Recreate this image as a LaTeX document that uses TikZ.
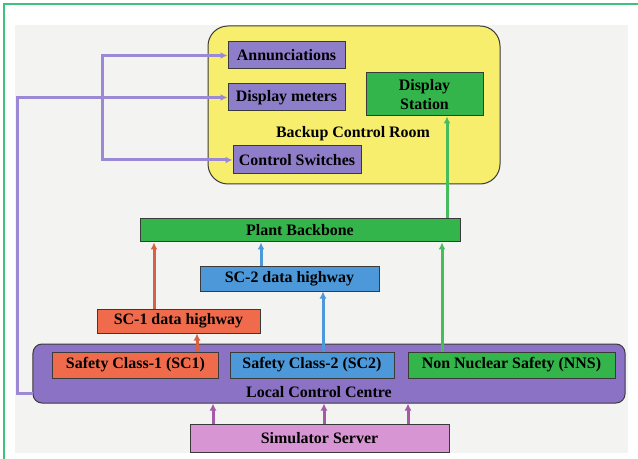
\documentclass[tikz,border=0pt]{standalone}
\usepackage{fontspec}
\setmainfont{Liberation Serif}
\usepackage{tikz}
\usetikzlibrary{arrows.meta}
\definecolor{frameGreen}{HTML}{3CC27A}
\definecolor{paper}{HTML}{F3F3F1}
\definecolor{edge}{HTML}{3A3A3A}
\definecolor{roomYellow}{HTML}{F6EE6C}
\definecolor{panelPurple}{HTML}{8E7DC9}
\definecolor{lccPurple}{HTML}{8B72C5}
\definecolor{netGreen}{HTML}{33B54B}
\definecolor{scOrange}{HTML}{F06B4C}
\definecolor{scBlue}{HTML}{4C98D8}
\definecolor{simPink}{HTML}{D795D4}
\definecolor{feedPurple}{HTML}{9C89D5}
\definecolor{simLine}{HTML}{A55AA8}
\tikzset{%
  >={Latex[width=7bp,length=7bp]},
  % Specifications for style of nodes:
         base/.style = {rectangle, draw=edge, line width=1bp, inner sep=0pt,
                        text centered, font=\bfseries\fontsize{16}{19}\selectfont},
     roombox/.style = {base, fill=roomYellow, rounded corners=20bp},
       panel/.style = {base, fill=panelPurple},
     netbox/.style = {base, fill=netGreen},
     sc1box/.style = {base, fill=scOrange},
     sc2box/.style = {base, fill=scBlue},
      lccbox/.style = {base, fill=lccPurple, rounded corners=9bp},
      simbox/.style = {base, fill=simPink},
     heading/.style = {inner sep=0pt, font=\bfseries\fontsize{16}{19}\selectfont},
  % Specifications for style of lines:
        link/.style = {->, line width=3bp},
        feed/.style = {link, feedPurple},
     redlink/.style = {link, scOrange!90!black},
    bluelink/.style = {link, scBlue},
   greenlink/.style = {link, netGreen!90!white},
     simlink/.style = {link, simLine},
}

\begin{document}
\begin{tikzpicture}[x=1bp, y=-1bp]
  \useasboundingbox (0,0) rectangle (638,459);
  \fill[paper] (15,25) rectangle (628,453);
  \draw[frameGreen, line width=1.3bp] (4,459) -- (4,4) -- (638,4);
  % Specification of nodes (position, size, etc.)
  \node (room)     [roombox, minimum width=292bp, minimum height=158bp]
                                                    at (354,105)   {};
  \node (annun)    [panel, minimum width=117bp, minimum height=27bp]
                                                    at (286.5,55.5) {Annunciations};
  \node (meters)   [panel, minimum width=117bp, minimum height=27bp]
                                                    at (286.5,97.5) {Display meters};
  \node (switches) [panel, minimum width=128bp, minimum height=28bp]
                                                    at (297,160)   {Control Switches};
  \node (station)  [netbox, minimum width=117bp, minimum height=43bp, align=center]
                                                    at (424.5,94.5) {Display\\Station};
  \node (roomText) [heading]                        at (353,134)   {Backup Control Room};
  \node (backbone) [netbox, minimum width=320bp, minimum height=23bp]
                                                    at (300,230.5) {Plant Backbone};
  \node (hw2)      [sc2box, minimum width=179bp, minimum height=24bp]
                                                    at (289.5,279) {SC-2 data highway};
  \node (hw1)      [sc1box, minimum width=163bp, minimum height=24bp]
                                                    at (178.5,321) {SC-1 data highway};
  \node (lcc)      [lccbox, minimum width=592bp, minimum height=59bp]
                                                    at (329,373.5) {};
  \node (sc1)      [sc1box, minimum width=165bp, minimum height=26bp]
                                                    at (135.5,365) {Safety Class-1 (SC1)};
  \node (sc2)      [sc2box, minimum width=164bp, minimum height=26bp]
                                                    at (312,365)   {Safety Class-2 (SC2)};
  \node (nns)      [netbox, minimum width=207bp, minimum height=26bp]
                                                    at (511.5,365) {Non Nuclear Safety (NNS)};
  \node (lccText)  [heading]                        at (319,392)   {Local Control Centre};
  \node (sim)      [simbox, minimum width=259bp, minimum height=28bp]
                                                    at (319.5,438) {Simulator Server};
  % Specification of lines between nodes specified above
  \coordinate (lccIn) at (33,393);
  \coordinate (split) at (102,97.5);
  \draw[feed]  (lccIn) -- ++(-16,0) |- (meters.west);
  \draw[feed]  (split) |- (annun.west);
  \draw[feed]  (split) |- (switches.west);
  \draw[redlink]   ([xshift=61.5bp]sc1.north) -- ([xshift=61.5bp]sc1.north |- hw1.south);
  \draw[redlink]   ([xshift=-24.5bp]hw1.north) -- ([xshift=-24.5bp]hw1.north |- backbone.south);
  \draw[bluelink]  ([xshift=11bp]sc2.north) -- ([xshift=11bp]sc2.north |- hw2.south);
  \draw[bluelink]  ([xshift=-28.5bp]hw2.north) -- ([xshift=-28.5bp]hw2.north |- backbone.south);
  \draw[greenlink] ([xshift=-69.5bp]nns.north) -- ([xshift=-69.5bp]nns.north |- backbone.south);
  \draw[greenlink] ([xshift=147bp]backbone.north) -- ([xshift=147bp]backbone.north |- station.south);
  \foreach \dx in {-106.5,4.5,88.5}
    \draw[simlink] ([xshift=\dx bp]sim.north) -- ([xshift=\dx bp]sim.north |- lcc.south);
\end{tikzpicture}
\end{document}
